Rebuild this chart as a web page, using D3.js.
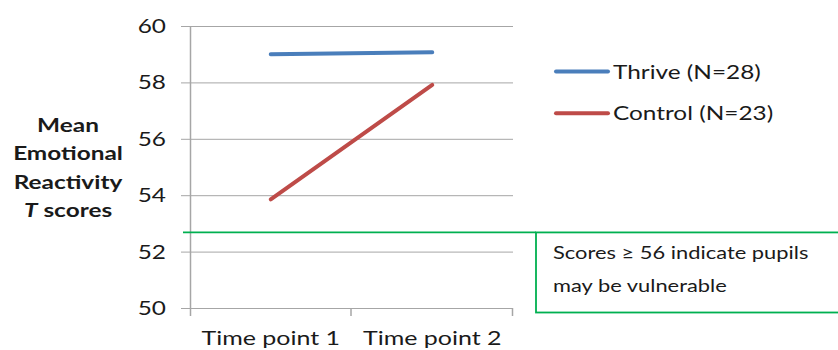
<!DOCTYPE html>
<html>
<head>
<meta charset="utf-8">
<script src="https://cdn.jsdelivr.net/npm/d3@7"></script>
<style>
  html, body { margin: 0; padding: 0; background: #fff; }
  svg { display: block; }
  text { font-family: Lato, "Open Sans", sans-serif; fill: #1a1a1a; }
</style>
</head>
<body>
<svg id="chart" width="838" height="350"></svg>
<script>
// Time points on the x axis
const categories = ["Time point 1", "Time point 2"];
// Mean Emotional Reactivity T scores per group
const thriveValues = [59.0, 59.07];
const controlValues = [53.85, 57.91];
const seriesNames = ["Thrive (N=28)", "Control (N=23)"];
const yTicks = [50, 52, 54, 56, 58, 60];
// Level of the green callout connector
const calloutLevel = 52.68;
const calloutLines = ["Scores \u2265 56 indicate pupils", "may be vulnerable"];
const yTitleLines = ["Mean", "Emotional", "Reactivity", "T scores"];

const colors = { thrive: "#4a7ebb", control: "#be4b48", green: "#00b050", grid: "#a6a6a6" };
const STRETCH = 1.25; // horizontal stretch applied to text

const svg = d3.select("#chart");
const plot = { left: 190, right: 513, top: 26, bottom: 308 };

const x = d3.scaleBand().domain(categories).range([plot.left, plot.right]);
const y = d3.scaleLinear().domain([50, 60]).range([plot.bottom, plot.top]);
const cx = d => x(d) + x.bandwidth() / 2;

function stretchedText(sel, px, py, anchor) {
  return sel.attr("transform", `translate(${px},${py}) scale(${STRETCH},1)`)
    .attr("text-anchor", anchor);
}

// horizontal gridlines
svg.append("g").selectAll("line").data(yTicks).join("line")
  .attr("x1", plot.left - 9).attr("x2", plot.right)
  .attr("y1", d => y(d) + 0.5).attr("y2", d => y(d) + 0.5)
  .attr("stroke", colors.grid).attr("stroke-width", 1);

// left axis line
svg.append("line")
  .attr("x1", plot.left + 0.5).attr("x2", plot.left + 0.5)
  .attr("y1", plot.top).attr("y2", plot.bottom + 8)
  .attr("stroke", colors.grid).attr("stroke-width", 1.5);

// category separators on the bottom axis
const xEdges = [plot.left, ...categories.map(c => x(c) + x.bandwidth())];
svg.append("g").selectAll("line").data(xEdges.slice(1)).join("line")
  .attr("x1", d => d - 0.5).attr("x2", d => d - 0.5)
  .attr("y1", plot.bottom).attr("y2", plot.bottom + 8)
  .attr("stroke", colors.grid).attr("stroke-width", 1.5);

// y tick labels
svg.append("g").selectAll("text").data(yTicks).join("text")
  .each(function(d) { stretchedText(d3.select(this), 166, y(d) + 7, "end"); })
  .style("font-size", "19.5px")
  .text(d => d);

// x tick labels
svg.append("g").selectAll("text").data(categories).join("text")
  .each(function(d) { stretchedText(d3.select(this), cx(d), 345, "middle"); })
  .style("font-size", "20px")
  .text(d => d);

// y axis title (bold, multi-line, italic T)
const title = svg.append("g");
yTitleLines.forEach((line, i) => {
  const t = title.append("text");
  stretchedText(t, 68, 132 + i * 28.3, "middle")
    .style("font-size", "19.5px").style("font-weight", "bold");
  if (line.startsWith("T ")) {
    t.append("tspan").style("font-style", "italic").text("T");
    t.append("tspan").text(line.slice(1));
  } else {
    t.text(line);
  }
});

// series lines
const lineGen = d3.line().x(d => cx(d.c)).y(d => y(d.v));
const series = [
  { name: seriesNames[0], values: thriveValues, color: colors.thrive },
  { name: seriesNames[1], values: controlValues, color: colors.control }
];
series.forEach(s => {
  svg.append("path")
    .datum(categories.map((c, i) => ({ c, v: s.values[i] })))
    .attr("d", lineGen)
    .attr("fill", "none")
    .attr("stroke", s.color)
    .attr("stroke-width", 4)
    .attr("stroke-linecap", "round");
});

// legend
const legend = svg.append("g");
series.forEach((s, i) => {
  const ly = 71.5 + i * 41.7;
  legend.append("line")
    .attr("x1", 556).attr("x2", 608).attr("y1", ly).attr("y2", ly)
    .attr("stroke", s.color).attr("stroke-width", 4).attr("stroke-linecap", "round");
  stretchedText(legend.append("text"), 613, ly + 7, "start")
    .style("font-size", "19.5px").text(s.name);
});

// green connector line and callout box
const boxLeft = 536, boxTop = y(calloutLevel), boxBottom = 312.5;
svg.append("line")
  .attr("x1", 183).attr("x2", boxLeft)
  .attr("y1", y(calloutLevel)).attr("y2", y(calloutLevel))
  .attr("stroke", colors.green).attr("stroke-width", 1.8);
svg.append("rect")
  .attr("x", boxLeft).attr("y", boxTop)
  .attr("width", 838 - boxLeft + 10).attr("height", boxBottom - boxTop)
  .attr("fill", "none").attr("stroke", colors.green).attr("stroke-width", 1.8);
calloutLines.forEach((line, i) => {
  stretchedText(svg.append("text"), 553, 259 + i * 33, "start")
    .style("font-size", "17.5px").text(line);
});
</script>
</body>
</html>
